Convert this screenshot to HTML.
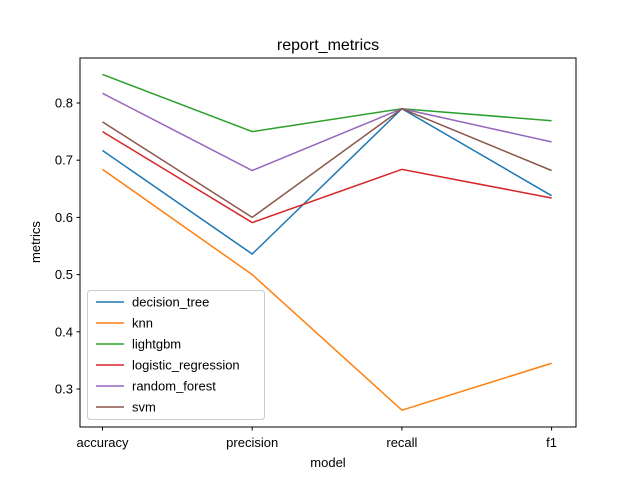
<!DOCTYPE html>
<html><head><meta charset="utf-8"><style>
body{margin:0;background:#fff;}
svg text{font-family:"Liberation Sans","DejaVu Sans",sans-serif;fill:#000;}
</style></head><body>
<svg id="chart" width="640" height="480" xmlns="http://www.w3.org/2000/svg">
<rect width="640" height="480" fill="#fff"/>
<text x="328" y="50" font-size="16" text-anchor="middle">report_metrics</text>
<g id="plot"></g>
<rect x="80" y="58" width="496" height="369" fill="none" stroke="#000" stroke-width="1"/>
<text x="328" y="467" font-size="13" text-anchor="middle">model</text>
<text x="40" y="242" font-size="13" text-anchor="middle" transform="rotate(-90 40 242)">metrics</text>
</svg>
<script>
const categories=["accuracy","precision","recall","f1"];
const seriesNames=["decision_tree","knn","lightgbm","logistic_regression","random_forest","svm"];
const decisionTree=[0.717,0.536,0.790,0.638];
const knn=[0.684,0.500,0.263,0.345];
const lightgbm=[0.850,0.750,0.790,0.769];
const logisticRegression=[0.750,0.591,0.684,0.634];
const randomForest=[0.817,0.682,0.790,0.732];
const svmVals=[0.767,0.600,0.790,0.682];
const yTicks=[0.3,0.4,0.5,0.6,0.7,0.8];
const colors=["#1f77b4","#ff7f0e","#2ca02c","#d62728","#9467bd","#8c564b"];
const allSeries=[decisionTree,knn,lightgbm,logisticRegression,randomForest,svmVals];
const NS="http://www.w3.org/2000/svg";
const g=document.getElementById('plot');
const xs=i=>102.5+i*149.7;
const ys=v=>103+(0.8-v)*572;
function mk(t,a){const e=document.createElementNS(NS,t);for(const k in a)e.setAttribute(k,a[k]);return e;}
categories.forEach((c,i)=>{
  const t=mk('line',{x1:xs(i),x2:xs(i),y1:427,y2:430.5,stroke:'#000'});
  
  
  g.appendChild(t);
  const l=mk('text',{x:xs(i),y:447,'font-size':13,'text-anchor':'middle'});l.textContent=c;
  
  
  g.appendChild(l);
});
yTicks.forEach(v=>{
  const t=mk('line',{x1:76.5,x2:80,y1:ys(v),y2:ys(v),stroke:'#000'});
  
  
  g.appendChild(t);
  const l=mk('text',{x:73,y:ys(v)+4.5,'font-size':13,'text-anchor':'end'});l.textContent=v.toFixed(1);
  
  
  g.appendChild(l);
});
allSeries.forEach((s,k)=>{
  const p=mk('polyline',{points:s.map((v,i)=>xs(i)+','+ys(v)).join(' '),fill:'none',stroke:colors[k],'stroke-width':1.5});
  
  
  g.appendChild(p);
});
const lg=mk('rect',{x:87.5,y:290.5,width:177,height:129,rx:3,fill:'#fff','fill-opacity':0.8,stroke:'#ccc'});


g.appendChild(lg);
seriesNames.forEach((n,k)=>{
  const y=302+k*21;
  const l=mk('line',{x1:96,x2:124,y1:y,y2:y,stroke:colors[k],'stroke-width':1.5});
  
  
  g.appendChild(l);
  const t=mk('text',{x:132,y:y+4.5,'font-size':13});t.textContent=n;
  
  
  g.appendChild(t);
});
</script>
</body></html>
